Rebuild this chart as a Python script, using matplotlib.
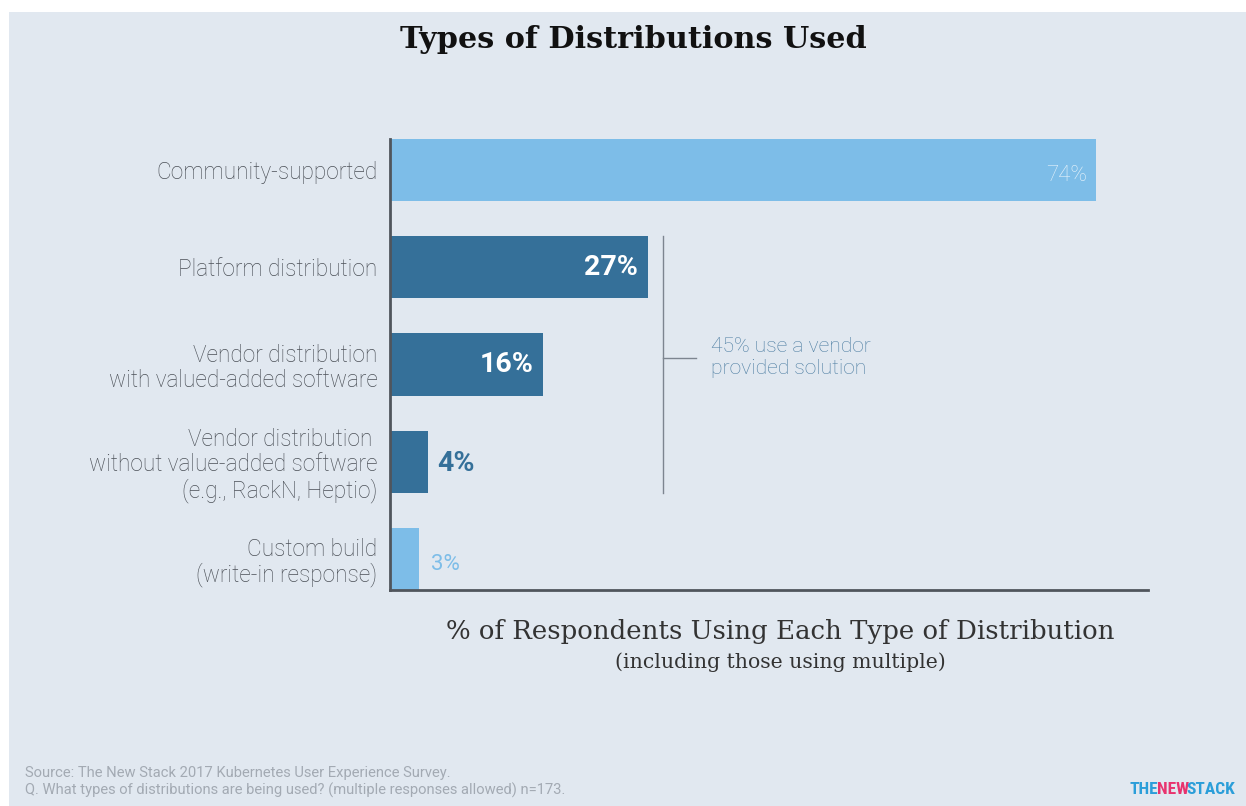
import matplotlib
matplotlib.use("Agg")
import matplotlib.pyplot as plt
from matplotlib.patches import Rectangle

categories = [
    "Community-supported",
    "Platform distribution",
    "Vendor distribution\nwith valued-added software",
    "Vendor distribution \nwithout value-added software\n(e.g., RackN, Heptio)",
    "Custom build\n(write-in response)",
]
values = [74, 27, 16, 4, 3]
vendor = [False, True, True, True, False]
vendor_total = 45

LIGHT = "#7dbde8"
DARK = "#357099"
PANEL = "#e1e8f0"
LABEL = "#4b5057"

plt.rcParams["font.family"] = ["Roboto", "DejaVu Sans"]

fig = plt.figure(figsize=(12.46, 8.06), dpi=100)
fig.patch.set_facecolor("white")
fig.patches.append(Rectangle((9 / 1246, 0), 1, 1 - 12 / 806, transform=fig.transFigure,
                             facecolor=PANEL, edgecolor="none", zorder=-10))

ax = fig.add_axes([390 / 1246, 1 - 590 / 806, (1148 - 390) / 1246, (590 - 139) / 806])
ax.set_facecolor("none")

ypos = list(range(len(categories)))
colors = [DARK if v else LIGHT for v in vendor]
ax.barh(ypos, values, height=0.64, color=colors)
ax.set_xlim(0, 79.4)
ax.set_ylim(len(categories) - 1 + 0.32, -0.32)

ax.set_yticks(ypos)
ax.set_yticklabels(categories, fontsize=16.3, color=LABEL, fontweight="light", linespacing=1.1)
ax.tick_params(axis="y", length=0, pad=9)
ax.set_xticks([])
for s in ["top", "right"]:
    ax.spines[s].set_visible(False)
for s in ["left", "bottom"]:
    ax.spines[s].set_color("#50555c")
    ax.spines[s].set_linewidth(2)

# value labels
for y, v, is_vendor in zip(ypos, values, vendor):
    if v > 50:
        ax.text(v - 1, y + 0.06, f"{v}%", ha="right", va="center", fontsize=16,
                color="#e8f3fb", fontweight="light")
    elif v >= 10:
        ax.text(v - 1, y, f"{v}%", ha="right", va="center", fontsize=20.5,
                color="white", fontweight="bold")
    elif is_vendor:
        ax.text(v + 0.9, y + 0.02, f"{v}%", ha="left", va="center", fontsize=20.5,
                color=DARK, fontweight="bold")
    else:
        ax.text(v + 1.3, y + 0.06, f"{v}%", ha="left", va="center", fontsize=16,
                color=LIGHT, fontweight="normal")

# bracket around the vendor-provided bars
vend_idx = [i for i, v in enumerate(vendor) if v]
top, bot = vend_idx[0] - 0.32, vend_idx[-1] + 0.32
bx = max(values[i] for i in vend_idx) + 1.6
mid = 1.93
ax.plot([bx, bx], [top, bot], color="#7d8590", lw=1)
ax.plot([bx, bx + 3.5], [mid, mid], color="#7d8590", lw=1)
ax.text(bx + 5.0, mid, f"{vendor_total}% use a vendor\nprovided solution", ha="left", va="center",
        fontsize=15.2, color="#4f7fa3", fontweight="light", linespacing=1.2)

fig.text(633 / 1246, 1 - 40 / 806, "Types of Distributions Used", ha="center", va="center",
         fontsize=21.8, fontweight="bold", family="DejaVu Serif", color="#111111")
fig.text(780 / 1246, 1 - 631 / 806, "% of Respondents Using Each Type of Distribution",
         ha="center", va="center", fontsize=18.7, family="DejaVu Serif", color="#333333",
         fontweight="light")
fig.text(780 / 1246, 1 - 662 / 806, "(including those using multiple)", ha="center", va="center",
         fontsize=14.7, family="DejaVu Serif", color="#333333", fontweight="light")

fig.text(25 / 1246, 1 - 773 / 806, "Source: The New Stack 2017 Kubernetes User Experience Survey.",
         ha="left", va="center", fontsize=10.6, color="#a3aab3")
fig.text(25 / 1246, 1 - 790 / 806,
         "Q. What types of distributions are being used? (multiple responses allowed) n=173.",
         ha="left", va="center", fontsize=10.6, color="#a3aab3")

# logo, drawn piece by piece
x = 1130
fig.canvas.draw()
r = fig.canvas.get_renderer()
for part, col in [("THE", "#2b9ed9"), ("NEW", "#e8336e"), ("STACK", "#2b9ed9")]:
    t = fig.text(x / 1246, 1 - 789 / 806, part, ha="left", va="center", fontsize=12.5,
                 fontweight="heavy", color=col, family=["Roboto Condensed", "Roboto", "DejaVu Sans"])
    x += t.get_window_extent(r).width - 2

fig.savefig("out.png", dpi=100, facecolor=fig.get_facecolor())
